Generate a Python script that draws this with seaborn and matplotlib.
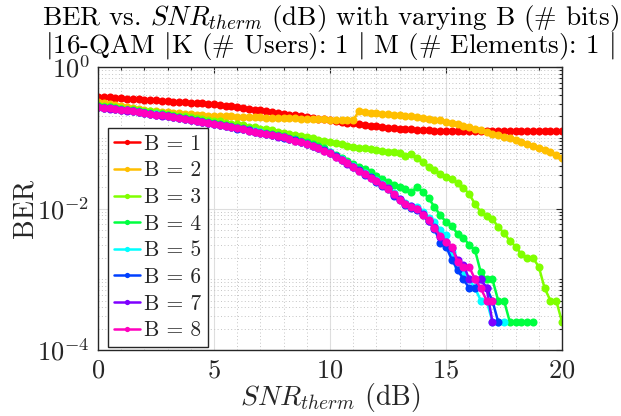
import numpy as np
import pandas as pd
import matplotlib
matplotlib.use("Agg")
import matplotlib.pyplot as plt
import seaborn as sns
from matplotlib.lines import Line2D
from matplotlib.ticker import FixedLocator, MultipleLocator, NullFormatter

# SNR grid (dB) shared by all curves
snr_db = np.arange(0, 20.001, 0.25)

# Bit error rate for each quantizer resolution B (curves stop where no errors were counted)
ber_b1 = [.380, .376, .371, .367, .362, .358, .354, .350, .345, .341,
          .337, .333, .329, .325, .322, .318, .314, .310, .307, .303,
          .300, .292, .285, .277, .270, .263, .256, .250, .243, .237,
          .231, .225, .219, .213, .208, .202, .197, .192, .187, .182,
          .177, .173, .168, .164, .160, .156, .152, .148, .145, .142,
          .139, .137, .135, .133, .131, .130, .128, .127, .126, .126,
          .125, .125, .125, .124, .125, .124, .125, .124, .124, .125,
          .124, .125, .124, .124, .125, .124, .124, .125, .124, .124, .124]
ber_b2 = [.316, .307, .298, .289, .280, .272, .264, .257, .249, .242,
          .235, .232, .228, .225, .222, .218, .215, .212, .209, .206,
          .203, .202, .201, .200, .199, .197, .196, .195, .194, .193,
          .192, .191, .190, .189, .188, .187, .186, .185, .184, .183,
          .181, .180, .180, .178, .177, .239, .233, .227, .224, .220,
          .216, .212, .208, .205, .200, .195, .190, .185, .180, .176,
          .169, .161, .154, .147, .140, .133, .127, .120, .114, .109,
          .103, .098, .093, .086, .081, .076, .072, .067, .062, .057, .052]
ber_b3 = [.290, .284, .277, .271, .265, .259, .252, .247, .240, .235,
          .229, .223, .217, .212, .206, .201, .196, .191, .186, .181,
          .175, .170, .164, .159, .154, .149, .144, .140, .135, .131,
          .127, .122, .118, .114, .110, .106, .102, .0979, .0942, .0906,
          .0871, .0835, .0803, .0777, .0752, .0728, .0705, .0685, .0665, .0652,
          .0639, .0619, .0599, .0561, .0590, .0509, .0454, .0392, .0350, .0312,
          .0279, .0261, .0229, .0195, .0160, .0116, .0089, .0078, .0071, .0055,
          .0045, .0035, .0029, .00225, .0020, .0020, .0015, .00075, .0005, .0005, .00025]
ber_b4 = [.281, .274, .268, .262, .256, .250, .244, .238, .231, .226,
          .220, .214, .208, .202, .196, .190, .184, .178, .172, .167,
          .161, .156, .151, .146, .141, .136, .131, .126, .122, .117,
          .113, .109, .105, .0995, .0950, .0905, .0857, .0811, .0766, .0713,
          .0639, .0574, .0517, .0469, .0426, .0386, .0356, .0323, .0288, .0261,
          .0237, .0215, .0201, .0186, .0171, .0201, .0171, .0141, .0105, .0081,
          .00645, .00566, .00436, .00389, .00305, .00259, .00125, .0010, .0010, .0005,
          .0005, .00025, .00025, .00025, .00025, .00025]
ber_b5 = [.273, .267, .261, .255, .249, .244, .238, .231, .225, .220,
          .214, .208, .202, .196, .191, .185, .179, .173, .168, .163,
          .157, .152, .147, .142, .137, .132, .127, .123, .119, .114,
          .110, .106, .102, .0970, .0925, .0880, .0825, .0775, .0725, .0670,
          .0620, .0552, .0494, .0440, .0395, .0352, .0315, .0280, .0250, .0222,
          .0195, .0163, .0136, .0120, .0110, .0106, .0089, .0073, .0065, .0050,
          .0042, .0024, .0015, .00125, .0010, .00075, .0005, .0005, .00025, .00025, .00025]
ber_b6 = [.272, .265, .260, .253, .248, .243, .236, .231, .224, .219,
          .212, .207, .200, .195, .190, .183, .178, .172, .167, .161,
          .156, .150, .146, .141, .135, .131, .126, .122, .117, .113,
          .109, .105, .100, .0955, .0915, .0865, .0812, .0768, .0710, .0662,
          .0605, .0545, .0480, .0436, .0380, .0346, .0302, .0276, .0240, .0210,
          .0186, .0152, .0130, .0113, .0102, .0096, .0080, .0066, .0052, .0033,
          .0029, .0019, .00135, .0010, .00075, .00075, .0010, .00075, .0005, .00025]
ber_b7 = [.271, .266, .259, .254, .249, .242, .237, .231, .224, .218,
          .213, .206, .201, .196, .189, .184, .178, .173, .166, .162,
          .157, .151, .146, .140, .136, .131, .127, .121, .118, .114,
          .109, .104, .101, .0965, .0910, .0868, .0820, .0760, .0720, .0655,
          .0612, .0540, .0488, .0430, .0390, .0340, .0310, .0270, .0248, .0212,
          .0192, .0155, .0135, .0114, .0107, .0098, .0083, .0067, .0055, .0040,
          .0034, .0028, .0019, .0016, .0010, .0010, .0010, .00075, .00025]
ber_b8 = [.272, .266, .260, .254, .248, .243, .237, .230, .224, .219,
          .213, .207, .201, .195, .190, .184, .178, .172, .167, .162,
          .156, .151, .146, .141, .136, .131, .126, .122, .118, .113,
          .109, .105, .101, .0960, .0914, .0871, .0816, .0765, .0716, .0660,
          .0609, .0543, .0485, .0433, .0386, .0344, .0307, .0274, .0245, .0215,
          .0189, .0158, .0132, .0116, .0105, .0100, .0081, .0069, .0053, .0041,
          .0034, .0029, .00175, .0015, .0015, .0010, .00075, .0005, .0005]

bits = [1, 2, 3, 4, 5, 6, 7, 8]
ber_curves = [ber_b1, ber_b2, ber_b3, ber_b4, ber_b5, ber_b6, ber_b7, ber_b8]
legend_labels = [f"B = {b}" for b in bits]

frames = []
for b, vals in zip(bits, ber_curves):
    frames.append(pd.DataFrame({"snr": snr_db[:len(vals)], "ber": vals, "B": b}))
df = pd.concat(frames, ignore_index=True)

sns.set_style("white")
plt.rcParams["font.family"] = ["cmr10", "DejaVu Serif"]
plt.rcParams["mathtext.fontset"] = "cm"
plt.rcParams["axes.unicode_minus"] = False
plt.rcParams["axes.formatter.use_mathtext"] = True

palette = sns.hls_palette(8, h=0, l=0.5, s=1)
frame_color = "#262626"

fig = plt.figure(figsize=(6.21, 4.16), dpi=100)
ax = fig.add_axes([98 / 621, 1 - 350 / 416, 464 / 621, 283 / 416])

sns.lineplot(data=df, x="snr", y="ber", hue="B", palette=palette,
             estimator=None, errorbar=None, marker="o", markersize=5.8,
             markeredgewidth=0, linewidth=1.8, legend=False, ax=ax)

ax.set_yscale("log")
ax.set_xlim(0, 20)
ax.set_ylim(1e-4, 1)

ax.xaxis.set_major_locator(FixedLocator([0, 5, 10, 15, 20]))
ax.xaxis.set_minor_locator(MultipleLocator(1))
ax.yaxis.set_major_locator(FixedLocator([1e-4, 1e-2, 1]))
minor_y = [k * 10.0 ** e for e in range(-4, 0) for k in range(1, 10)
           if not (k == 1 and e in (-4, -2))]
ax.yaxis.set_minor_locator(FixedLocator(minor_y))
ax.yaxis.set_minor_formatter(NullFormatter())

ax.grid(which="major", color="#dedede", linewidth=0.8, linestyle="-")
ax.grid(which="minor", color="#c4c4c4", linewidth=0.7, linestyle=(0, (1, 2.5)))
ax.set_axisbelow(True)

ax.tick_params(which="both", direction="in", top=True, right=True,
               colors=frame_color, labelsize=19, width=0.8)
ax.tick_params(which="major", length=4.5, pad=6)
ax.tick_params(which="minor", length=2.5)
for sp in ax.spines.values():
    sp.set_color(frame_color)
    sp.set_linewidth(1.0)

ax.set_xlabel("$SNR_{therm}$ (dB)", fontsize=20, color=frame_color, labelpad=-1)
ax.set_ylabel("BER", fontsize=20, color=frame_color, labelpad=-1)
ax.set_title("BER vs. $SNR_{therm}$ (dB) with varying B (# bits)\n"
             "$|$16-QAM $|$K (# Users): 1 $|$ M (# Elements): 1 $|$",
             fontsize=19.5, color="black", pad=10, linespacing=0.85)

handles = [Line2D([], [], color=c, marker="o", markersize=3.8,
                  markeredgewidth=0, linewidth=1.8) for c in palette]
leg = ax.legend(handles, legend_labels, loc="lower left",
                bbox_to_anchor=(0.021, 0.012), borderaxespad=0,
                fontsize=15.5, handlelength=1.2, handletextpad=0.2,
                labelspacing=0.33, borderpad=0.3, fancybox=False,
                framealpha=1, edgecolor=frame_color)
leg.get_frame().set_linewidth(1.0)

fig.savefig("out.png", dpi=100, facecolor="white")
